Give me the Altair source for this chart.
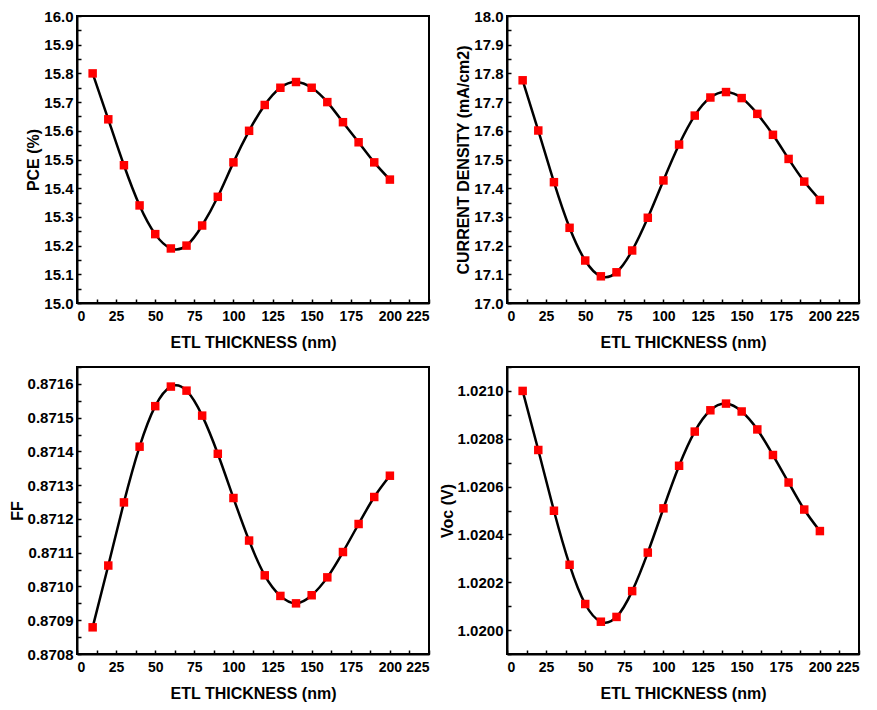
import altair as alt
import pandas as pd

thickness = [10, 20, 30, 40, 50, 60, 70, 80, 90, 100, 110, 120, 130, 140, 150, 160, 170, 180, 190, 200]
pce = [15.80, 15.64, 15.48, 15.34, 15.24, 15.19, 15.20, 15.27, 15.37, 15.49,
       15.60, 15.69, 15.75, 15.77, 15.75, 15.70, 15.63, 15.56, 15.49, 15.43]
jsc = [17.776, 17.601, 17.421, 17.262, 17.148, 17.093, 17.107, 17.183, 17.297, 17.427,
       17.552, 17.653, 17.716, 17.735, 17.714, 17.659, 17.586, 17.502, 17.423, 17.359]
ff = [0.870879, 0.871062, 0.871249, 0.871414, 0.871534, 0.871592, 0.871580, 0.871506, 0.871393, 0.871262,
      0.871136, 0.871033, 0.870972, 0.870950, 0.870974, 0.871027, 0.871102, 0.871185, 0.871265, 0.871328]
voc = [1.021000, 1.020753, 1.020499, 1.020273, 1.020109, 1.020035, 1.020055, 1.020163, 1.020324, 1.020509,
       1.020687, 1.020830, 1.020919, 1.020947, 1.020914, 1.020839, 1.020732, 1.020617, 1.020504, 1.020414]

x_major = [0, 25, 50, 75, 100, 125, 150, 175, 200, 225]
x_minor = [i * 12.5 for i in range(19)]

FONT = "Liberation Sans"
W, H = 352, 287


def panel(values, title, ydom, ymajor, yminor, fmt):
    df = pd.DataFrame({"t": thickness, "v": values})
    base = alt.Chart(df)
    xs = alt.Scale(domain=[0, 225], nice=False, zero=False)
    ys = alt.Scale(domain=ydom, nice=False, zero=False)
    x_main = alt.X("t:Q", scale=xs, axis=alt.Axis(
        orient="bottom", values=x_major, title="ETL THICKNESS (nm)", ticks=False,
        labelPadding=6, titlePadding=11, format="d", labelFontSize=14))
    y_main = alt.Y("v:Q", scale=ys, axis=alt.Axis(
        orient="left", values=ymajor, title=title, ticks=False,
        labelPadding=4, titlePadding=2, format=fmt, labelFontSize=15))
    line = base.mark_line(color="black", strokeWidth=2.5, interpolate="natural").encode(x=x_main, y=y_main)
    pts = base.mark_point(shape="square", filled=True, color="#ff0000", size=72, opacity=1).encode(
        x=alt.X("t:Q", scale=xs, axis=None), y=alt.Y("v:Q", scale=ys, axis=None))
    ticks = base.mark_point(opacity=0).encode(
        x=alt.X("t:Q", scale=xs, axis=alt.Axis(
            orient="bottom", values=x_minor, labels=False, domain=False, title=None,
            offset=-4, tickSize=4, tickWidth=1.5, tickColor="black")),
        y=alt.Y("v:Q", scale=ys, axis=alt.Axis(
            orient="left", values=yminor, labels=False, domain=False, title=None,
            offset=-4, tickSize=4, tickWidth=1.5, tickColor="black")),
    )
    return alt.layer(line, ticks, pts).resolve_axis(x="independent", y="independent").properties(
        width=W, height=H)


def rng(start, step, n, nd):
    return [round(start + step * i, nd) for i in range(n)]


p1 = panel(pce, "PCE (%)", [15.0, 16.0], rng(15.0, 0.1, 11, 2), rng(15.0, 0.05, 21, 3), ".1f")
p2 = panel(jsc, "CURRENT DENSITY (mA/cm2)", [17.0, 18.0], rng(17.0, 0.1, 11, 2), rng(17.0, 0.05, 21, 3), ".1f")
p3 = panel(ff, "FF", [0.8708, 0.87165], rng(0.8708, 0.0001, 9, 5), rng(0.8708, 0.00005, 18, 6), ".4f")
p4 = panel(voc, "Voc (V)", [1.0199, 1.0211], rng(1.0200, 0.0002, 6, 5), rng(1.0199, 0.0001, 13, 5), ".4f")

chart = alt.concat(p1, p2, p3, p4, columns=2, spacing={"row": 14, "column": 7}).properties(
    background="white", padding=0
).configure_view(
    stroke="black", strokeWidth=2
).configure_axis(
    labelFont=FONT, titleFont=FONT, labelFontSize=15, titleFontSize=16,
    labelFontWeight="bold", titleFontWeight="bold", labelColor="black", titleColor="black",
    domainColor="black", domainWidth=2, grid=False
)

chart.save("out.html", embed_options={"renderer": "svg", "actions": False})
